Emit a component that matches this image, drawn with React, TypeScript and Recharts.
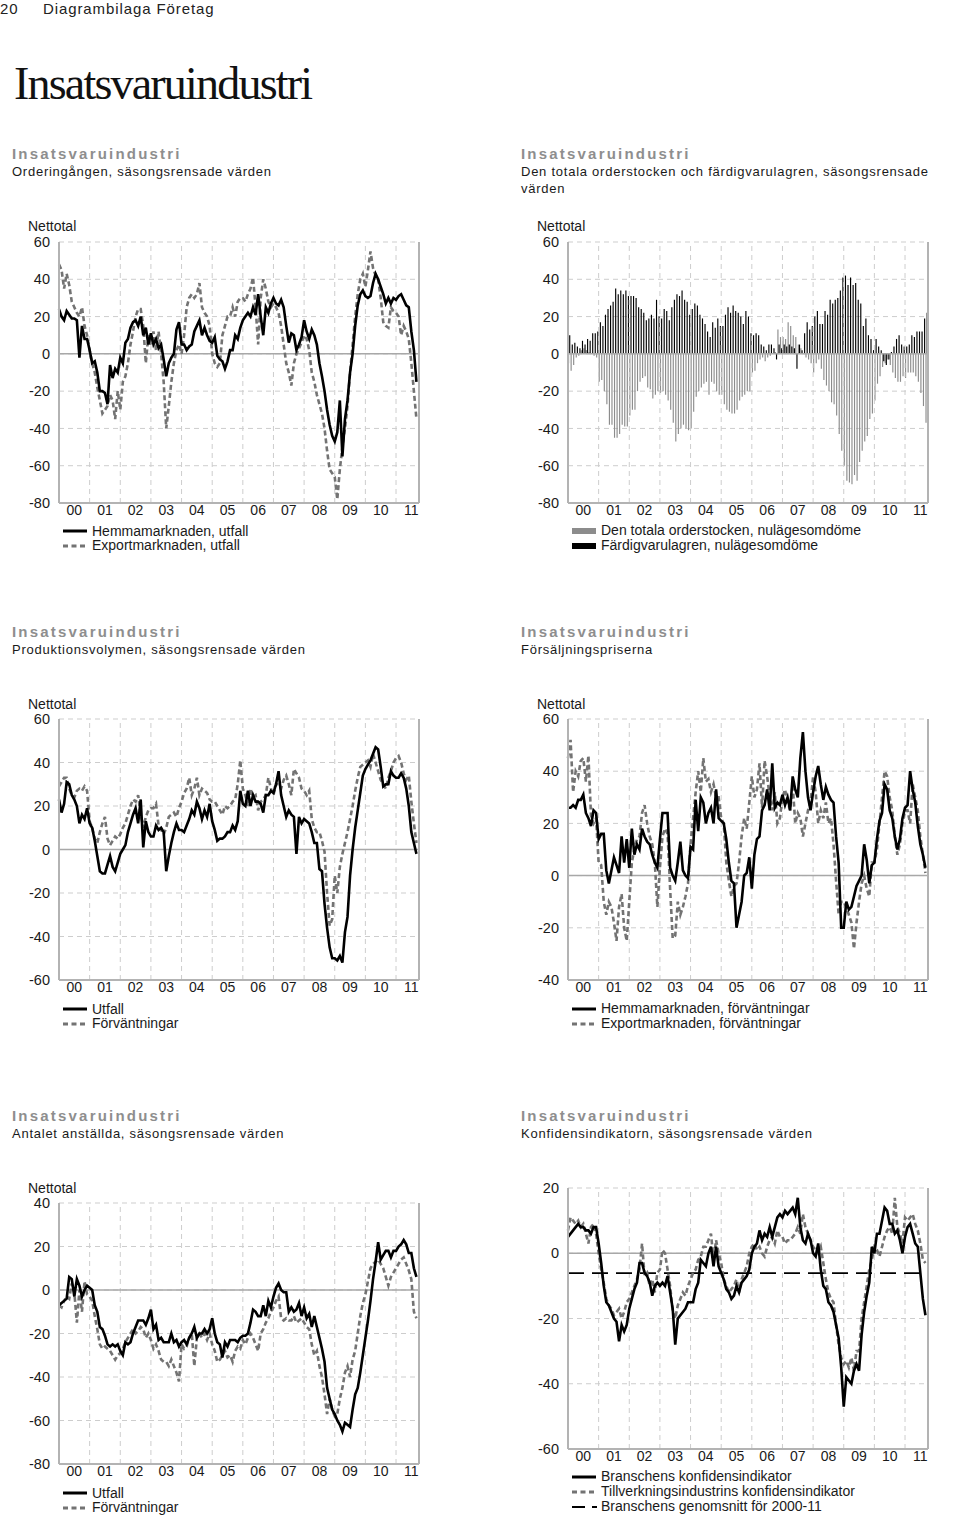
import React from 'react'
import {
  ComposedChart,
  Line,
  Bar,
  XAxis,
  YAxis,
  CartesianGrid,
  ReferenceLine,
} from 'recharts'

const SANS = '"Liberation Sans", Arial, Helvetica, sans-serif'
const SERIF = '"Liberation Serif", "Times New Roman", serif'

// x axis: one label per year, monthly data from Jan 2000
const YEARS = ['00', '01', '02', '03', '04', '05', '06', '07', '08', '09', '10', '11']

// Orderingången
const hemmaUtfall = [
  24, 20, 18, 23, 21, 19, 19, 18, -2, 15, 8, 8,
  2, -5, -4, -10, -20, -20, -21, -27, -6, -13, -8, -10,
  -2, -5, 6, 8, 14, 17, 18, 15, 20, 10, 14, 5,
  11, 5, 8, 3, 5, -3, -12, -5, -2, 0, 13, 17,
  5, 5, 2, 4, 5, 12, 15, 18, 10, 14, 10, 7,
  6, 9, -1, -3, -4, -8, -4, 2, 2, 10, 8, 14,
  18, 20, 22, 20, 25, 21, 32, 20, 10, 25, 22, 27,
  30, 27, 26, 29, 25, 15, 6, 11, 10, 2, 5, 9,
  18, 12, 8, 13, 10, 5, -5, -12, -20, -30, -38, -44,
  -47, -42, -25, -55, -35, -25, -10, 0, 15, 26, 32, 34,
  31, 30, 31, 38, 43, 40, 36, 32, 27, 30, 27, 30,
  29, 31, 32, 29, 26, 25, 12, 2, -15,
]
const exportUtfall = [
  48, 45, 35, 43, 37, 28, 25, 22, 20, 25, 15, 10,
  2, -5, -10, -18, -25, -32, -30, -28, -22, -25, -35, -20,
  -30, -15, -12, -5, 5, 12, 20, 24, 24, 15, -5, 10,
  5, 12, 2, 12, 0, -15, -40, -28, -15, -5, 2, 5,
  0, 10, 25, 30, 32, 30, 32, 38, 25, 22, 20, 15,
  0, -5, -7, -5, 10, 15, 20, 20, 25, 20, 28, 30,
  30, 28, 32, 35, 41, 25, 5, 30, 40, 35, 28, 25,
  27, 25, 22, 15, 5, -5, -10, -17, -5, 0, 3, 6,
  10, 8, 2, -10, -15, -22, -27, -32, -40, -52, -62, -64,
  -66, -78, -62, -50, -40, -28, -10, 5, 20, 32, 40, 43,
  36, 45, 55, 46, 42, 40, 30, 17, 15, 14, 25, 23,
  22, 20, 10, 15, 12, 8, -5, -20, -35,
]

// Orderstock och färdigvarulager
const orderstocken = [
  -5, -9, -6, -2, -1, 2, 3, 2, 1, 0, -1, -2,
  -15, -14, -20, -27, -38, -38, -45, -45, -43, -38, -39, -39,
  -33, -30, -30, -20, -15, -13, -12, -18, -19, -24, -22, -20,
  -21, -20, -22, -25, -30, -37, -47, -43, -40, -38, -40, -41,
  -40, -31, -23, -20, -18, -16, -15, -22, -15, -16, -20, -22,
  -22, -27, -30, -31, -32, -32, -30, -25, -23, -22, -20, -20,
  -10, -9, -5, -3, -2, -4, -2, -1, 0, 1, 13, 9,
  9, 8, 17, 15, 10, 9, 5, 3, 0, -2, -3, -5,
  -10, -5, -3, -8, -14, -17, -20, -26, -27, -33, -43, -52,
  -60, -68, -69, -70, -65, -68, -58, -52, -47, -44, -35, -32,
  -25, -16, -12, -7, -5, -3, -6, -10, -13, -15, -15, -12,
  -13, -10, -10, -10, -12, -15, -21, -28, -37,
]
const fardigvarulager = [
  10, 5, 6, 4, 3, 7, 5, 8, 7, 11, 11, 12,
  17, 15, 21, 24, 26, 28, 35, 32, 34, 32, 34, 31,
  31, 31, 30, 25, 24, 22, 18, 19, 21, 19, 29, 20,
  19, 24, 23, 18, 25, 29, 32, 31, 34, 29, 28, 21,
  24, 27, 26, 21, 19, 16, 12, 9, 17, 14, 19, 15,
  15, 21, 25, 22, 26, 23, 22, 20, 16, 23, 20, 11,
  10, 11, 10, 5, 4, 2, 5, 5, 3, -3, 5, 3,
  5, 4, 5, 4, 3, -8, 5, 2, 11, 17, 13, 15,
  20, 23, 16, 16, 23, 21, 29, 27, 29, 30, 34, 41,
  42, 37, 41, 37, 38, 29, 27, 15, 19, 10, 8, 2,
  8, 4, 2, -4, -6, -3, 1, 4, 8, 10, 5, 4,
  4, 5, 10, 9, 12, 12, 12, 19, 22,
]

// Produktionsvolymen
const prodUtfall = [
  23, 17, 21, 31, 30, 25, 23, 20, 12, 16, 14, 19,
  12, 10, 4, -3, -10, -11, -11, -7, -3, -8, -10, -6,
  -2, 0, 2, 8, 12, 16, 19, 12, 23, 1, 13, 8,
  6, 6, 11, 9, 10, 8, -10, -3, 3, 8, 12, 9,
  9, 8, 11, 14, 18, 16, 22, 19, 14, 18, 15, 21,
  13, 9, 4, 5, 5, 6, 8, 8, 11, 9, 13, 27,
  21, 20, 27, 20, 25, 22, 22, 21, 17, 25, 25, 27,
  26, 30, 36, 25, 20, 15, 18, 16, 15, -2, 15, 12,
  14, 13, 12, 8, 3, 3, -9, -10, -25, -36, -45, -50,
  -50, -51, -49, -52, -38, -31, -12, 0, 10, 18, 26, 34,
  37, 39, 41, 44, 47, 46, 38, 29, 30, 30, 36, 34,
  33, 33, 35, 33, 28, 20, 8, 3, -2,
]
const prodForv = [
  29, 31, 33, 33, 28, 25, 24, 27, 28, 27, 29, 27,
  13, 10, 5, 3, 8, 12, 15, 5, 2, 4, 6, 5,
  7, 10, 12, 16, 20, 23, 22, 25, 16, 10, 15, 18,
  19, 19, 21, 11, 9, 7, 10, 15, 16, 17, 15, 19,
  22, 26, 28, 33, 25, 28, 33, 25, 28, 27, 26, 23,
  22, 22, 20, 18, 16, 20, 19, 20, 22, 23, 30, 41,
  28, 25, 20, 28, 24, 25, 18, 22, 23, 25, 33, 28,
  25, 30, 30, 28, 32, 34, 30, 25, 37, 35, 33, 28,
  27, 25, 27, 14, 10, 8, 8, 4, -1, -20, -35, -32,
  -12, -20, -8, -2, 3, 8, 14, 20, 27, 33, 38, 39,
  40, 41, 38, 44, 40, 36, 32, 30, 28, 33, 36, 40,
  42, 43, 40, 35, 32, 34, 22, 12, 3,
]

// Försäljningspriserna
const prisHemma = [
  26, 26, 27, 26, 29, 29, 31, 24, 22, 19, 25, 24,
  14, 16, 16, 2, -3, 2, 7, 4, 1, 15, 5, 14,
  3, 18, 8, 12, 10, 18, 15, 13, 12, 8, 5, 3,
  14, 24, 24, 24, 3, 0, -2, 5, 13, 2, 0, -1,
  11, 10, 29, 17, 30, 28, 20, 24, 26, 20, 33, 22,
  21, 20, 14, 5, -2, -3, -20, -15, -10, 0, 1, 7,
  -5, 8, 14, 15, 25, 27, 33, 25, 43, 26, 28, 27,
  31, 27, 30, 25, 38, 33, 30, 45, 55, 40, 30, 25,
  32, 38, 42, 35, 29, 34, 31, 29, 28, 15, 5, -20,
  -20, -10, -13, -12, -8, -4, -2, 0, 12, 6, -3, 4,
  5, 14, 21, 24, 35, 33, 25, 22, 15, 10, 14, 22,
  26, 27, 40, 33, 28, 19, 12, 8, 3,
]
const prisExport = [
  45, 52, 32, 40, 38, 44, 45, 36, 46, 23, 20, 22,
  5, 4, -10, -15, -10, -12, -18, -25, -12, -7, -20, -25,
  -10, 5, 10, 14, 15, 24, 27, 20, 15, 12, 5, -12,
  3, 15, 18, 16, -5, -24, -23, -10, -15, -12, -8, -3,
  12, 22, 32, 40, 32, 45, 36, 37, 32, 35, 30, 30,
  22, 20, 5, -2, -8, -4, -3, 5, 15, 22, 18, 28,
  38, 30, 33, 43, 26, 44, 38, 30, 25, 32, 20, 22,
  30, 33, 28, 25, 35, 20, 24, 22, 15, 20, 25, 28,
  38, 32, 20, 25, 22, 28, 20, 22, 12, -2, -15, -10,
  -10, -12, -15, -18, -28, -18, -10, -3, 0, -5, -8, 5,
  5, 10, 20, 30, 40, 38, 30, 25, 15, 8, 12, 20,
  25, 25, 20, 35, 30, 25, 15, 8, 1,
]

// Antalet anställda
const anstUtfall = [
  -7, -6, -5, -4, 6, 5, -3, 5, 2, -3, 0, 2,
  1, 0, -7, -10, -17, -18, -21, -25, -26, -25, -26, -25,
  -28, -30, -24, -25, -24, -20, -17, -14, -14, -14, -16, -13,
  -9, -18, -16, -23, -22, -24, -24, -24, -20, -24, -23, -26,
  -24, -23, -25, -22, -20, -17, -22, -20, -20, -18, -20, -18,
  -13, -20, -24, -25, -31, -24, -26, -23, -23, -23, -24, -22,
  -21, -21, -20, -15, -9, -10, -12, -12, -7, -12, -5, -8,
  -3, 1, 3, 0, -1, -1, -10, -8, -10, -9, -6, -12,
  -8, -13, -11, -17, -12, -17, -22, -27, -33, -45, -50, -55,
  -57, -60, -62, -65, -61, -62, -63, -55, -48, -45, -38, -30,
  -22, -14, -5, 5, 13, 22, 14, 16, 18, 18, 15, 18,
  18, 20, 21, 23, 21, 17, 17, 10, 6,
]
const anstForv = [
  -7, -8, -5, -3, -4, 3, -1, -15, 0, -10, 4, -2,
  -3, -5, -12, -18, -25, -27, -26, -27, -28, -30, -32, -30,
  -29, -27, -24, -22, -20, -18, -20, -19, -17, -18, -22, -20,
  -23, -27, -25, -28, -32, -33, -33, -35, -32, -35, -38, -42,
  -25, -27, -26, -22, -20, -35, -22, -20, -22, -20, -23, -20,
  -25, -28, -33, -32, -30, -28, -31, -30, -33, -28, -26, -27,
  -23, -25, -22, -20, -22, -25, -28, -20, -18, -15, -13, -10,
  -8, -5, -3, -13, -14, -13, -14, -14, -12, -15, -14, -13,
  -15, -17, -18, -25, -30, -28, -35, -40, -48, -57, -50, -55,
  -58, -57, -50, -45, -38, -35, -40, -32, -28, -20, -12, -6,
  -2, 4, 10, 12, 13, 14, 12, 10, 6, 2, 6, 8,
  10, 12, 14, 15, 12, 9, 5, -10, -13,
]

// Konfidensindikatorn
const konfBransch = [
  5, 6, 7, 8, 9, 8, 8, 7, 7, 6, 8, 8,
  3, -3, -10, -15, -16, -18, -20, -21, -27, -22, -24, -22,
  -17, -14, -11, -9, -3, -3, -6, -7, -9, -13, -10, -9,
  -10, -9, -10, -7, -12, -17, -28, -20, -19, -18, -17, -15,
  -15, -15, -11, -9, -2, -3, -4, 0, 2, -4, 2, -4,
  -6, -8, -11, -12, -14, -13, -10, -12, -9, -8, -7, -5,
  0, 2, 3, 7, 4, 6, 5, 8, 5, 8, 11, 12,
  11, 13, 12, 13, 14, 12, 17, 8, 4, 3, 6, 4,
  0, -1, 3, -5, -10, -11, -15, -16, -18, -22, -26, -35,
  -47, -38, -39, -40, -36, -34, -36, -25, -18, -13, -9, 2,
  0, 6, 6, 10, 14, 13, 9, 9, 6, 7, 4, 0,
  5, 8, 9, 6, 3, 2, -6, -14, -19,
]
const konfTillv = [
  7, 11, 10, 9, 10, 8, 9, 6, 3, 8, 9, 6,
  0, -5, -9, -14, -16, -17, -19, -18, -17, -20, -18, -15,
  -14, -12, -10, -8, -5, 3, -7, -6, -10, -8, -12, -6,
  -5, 1, 0, -5, -10, -18, -20, -16, -14, -12, -13, -10,
  -8, -6, -5, -2, -1, 2, 2, 4, 6, -2, 4, 0,
  -3, -8, -10, -12, -11, -10, -8, -12, -8, -6, -4, 0,
  2, 3, 1, 2, 0, -1, 2, 4, 5, 3, 7, 5,
  5, 3, 4, 4, 5, 6, 8, 6, 12, 8, 6, 4,
  2, 1, 0, 2, -3, -8, -12, -14, -15, -22, -28, -32,
  -34, -33, -35, -32, -36, -30, -30, -20, -15, -10, -5, -2,
  2, 1, -1, 2, 5, 7, 8, 6, 17, 8, 6, 3,
  11, 10, 11, 12, 9, 7, 3, -2, -3,
]
const branschSnitt = -6.1

const PLOT_W = 360
const PLOT_H = 261
const RIGHT_W = 40
const X_H = 28
const GRID = '#cdcdcd'
const AXIS = '#b3b3b3'
const GRAY = '#737373'

function toRows(a: number[], b: number[]) {
  return a.map((v, i) => ({ m: i, a: v, b: b[i] }))
}

function Text({ x, base, size = 14, serif = false, color = '#1a1a1a', bold = false, spacing = 0, children }: any) {
  const off = serif ? 0.9375 : 0.9465
  return (
    <div
      style={{
        position: 'absolute',
        left: x,
        top: base - off * size,
        fontFamily: serif ? SERIF : SANS,
        fontSize: size,
        lineHeight: `${size * 1.2}px`,
        color,
        fontWeight: bold ? 700 : 400,
        letterSpacing: spacing,
        whiteSpace: 'nowrap',
      }}
    >
      {children}
    </div>
  )
}

function Swatch({ x, y, kind }: { x: number; y: number; kind: string }) {
  return (
    <svg style={{ position: 'absolute', left: x, top: y - 5 }} width={26} height={10}>
      {kind === 'solid' && <line x1={0} x2={24} y1={5} y2={5} stroke="#000" strokeWidth={3} />}
      {kind === 'dash' && (
        <line x1={0} x2={24} y1={5} y2={5} stroke={GRAY} strokeWidth={3} strokeDasharray="5 3.5" />
      )}
      {kind === 'barGray' && <rect x={0} y={2} width={24} height={6} fill="#8c8c8c" />}
      {kind === 'barBlack' && <rect x={0} y={2} width={24} height={6} fill="#000" />}
      {kind === 'longdash' && (
        <line x1={0} x2={25} y1={5} y2={5} stroke="#000" strokeWidth={1.8} strokeDasharray="13 7 5 40" />
      )}
    </svg>
  )
}

function Legend({ x, bases, items }: { x: number; bases: number[]; items: { kind: string; label: string }[] }) {
  return (
    <>
      {items.map((it, i) => (
        <React.Fragment key={it.label}>
          <Swatch x={x} y={bases[i] - 5} kind={it.kind} />
          <Text x={x + 29} base={bases[i]} size={14}>
            {it.label}
          </Text>
        </React.Fragment>
      ))}
    </>
  )
}

function Panel({ left, axisW, plotTop, domain, ticks, data, shift = 0, children }: any) {
  const xDomain = [shift, 141 + shift]
  const yearMid = YEARS.map((_, i) => i * 12 + 6 + shift)
  const bounds = YEARS.slice(1).map((_, i) => (i + 1) * 12 + shift)
  const monthTicks = data.map((d: any) => d.m)
  const tickStyle = { fontSize: 14.5, fill: '#1a1a1a', fontFamily: SANS }
  return (
    <div style={{ position: 'absolute', left, top: plotTop - 10 }}>
      <ComposedChart
        width={axisW + PLOT_W + RIGHT_W}
        height={10 + PLOT_H + X_H}
        data={data}
        margin={{ top: 10, right: 0, bottom: 0, left: 0 }}
        barGap={0}
      >
        <CartesianGrid yAxisId="l" vertical={false} stroke={GRID} strokeDasharray="5 4" />
        {bounds.map((b) => (
          <ReferenceLine key={b} yAxisId="l" x={b} stroke={GRID} strokeDasharray="5 4" />
        ))}
        <ReferenceLine yAxisId="l" y={0} stroke="#a8a8a8" strokeWidth={1.5} />
        <XAxis
          xAxisId="minor"
          type="number"
          dataKey="m"
          domain={xDomain}
          ticks={monthTicks}
          interval={0}
          tick={false}
          tickSize={3}
          mirror
          height={0}
          axisLine={false}
          tickLine={{ stroke: AXIS }}
        />
        <XAxis
          type="number"
          dataKey="m"
          domain={xDomain}
          ticks={yearMid}
          interval={0}
          tickFormatter={(v: number) => YEARS[Math.round((v - 6 - shift) / 12)]}
          tick={{ ...tickStyle, fontSize: 14 }}
          tickLine={false}
          tickSize={0}
          tickMargin={2}
          height={X_H}
          axisLine={{ stroke: AXIS, strokeWidth: 2 }}
        />
        <YAxis
          yAxisId="l"
          width={axisW}
          domain={domain}
          ticks={ticks}
          interval={0}
          tick={tickStyle}
          tickLine={false}
          tickSize={0}
          tickMargin={9}
          axisLine={{ stroke: AXIS, strokeWidth: 2 }}
        />
        <YAxis
          yAxisId="r"
          orientation="right"
          width={RIGHT_W}
          domain={domain}
          ticks={ticks}
          interval={0}
          tick={tickStyle}
          tickLine={false}
          tickSize={0}
          tickMargin={8}
          axisLine={{ stroke: AXIS, strokeWidth: 2 }}
        />
        {children}
      </ComposedChart>
    </div>
  )
}

const solid = (key: string) => (
  <Line
    key={key}
    yAxisId="l"
    type="linear"
    dataKey={key}
    stroke="#000"
    strokeWidth={2.6}
    dot={false}
    isAnimationActive={false}
  />
)
const dashed = (key: string) => (
  <Line
    key={key}
    yAxisId="l"
    type="linear"
    dataKey={key}
    stroke={GRAY}
    strokeWidth={2.6}
    strokeDasharray="5 3"
    dot={false}
    isAnimationActive={false}
  />
)

export default function App() {
  const L = { left: 0, axisW: 59 }
  const R = { left: 508, axisW: 60 }
  const titleGray = '#8e8e8e'

  return (
    <div
      style={{
        position: 'absolute',
        left: 0,
        top: 0,
        width: 960,
        height: 1519,
        background: '#fff',
        overflow: 'hidden',
      }}
    >
      <Text x={0} base={14.5} size={15} spacing={0.9} color="#222">20</Text>
      <Text x={43} base={14.5} size={15} spacing={0.9} color="#222">Diagrambilaga Företag</Text>
      <Text x={14} base={99} size={46} serif spacing={-1.8} color="#111">Insatsvaruindustri</Text>

      {/* Row 1 */}
      <Text x={12} base={159.5} size={15} bold spacing={2.2} color={titleGray}>Insatsvaruindustri</Text>
      <Text x={12} base={176} size={13} spacing={0.75}>Orderingången, säsongsrensade värden</Text>
      <Text x={521} base={159.5} size={15} bold spacing={2.2} color={titleGray}>Insatsvaruindustri</Text>
      <Text x={521} base={176} size={13} spacing={0.75}>
        Den totala orderstocken och färdigvarulagren, säsongsrensade
      </Text>
      <Text x={521} base={193} size={13} spacing={0.75}>värden</Text>

      <Text x={28} base={231.7} size={14}>Nettotal</Text>
      <Panel {...L} plotTop={242} domain={[-80, 60]} ticks={[-80, -60, -40, -20, 0, 20, 40, 60]} data={toRows(hemmaUtfall, exportUtfall)}>
        {dashed('b')}
        {solid('a')}
      </Panel>
      <Legend
        x={63}
        bases={[536, 550.7]}
        items={[
          { kind: 'solid', label: 'Hemmamarknaden, utfall' },
          { kind: 'dash', label: 'Exportmarknaden, utfall' },
        ]}
      />

      <Text x={537} base={231.7} size={14}>Nettotal</Text>
      <Panel {...R} plotTop={242} domain={[-80, 60]} ticks={[-80, -60, -40, -20, 0, 20, 40, 60]} data={toRows(orderstocken, fardigvarulager)} shift={-0.5}>
        <Bar yAxisId="l" dataKey="a" fill="#8c8c8c" barSize={1.3} isAnimationActive={false} />
        <Bar yAxisId="l" dataKey="b" fill="#000" barSize={1.3} isAnimationActive={false} />
      </Panel>
      <Legend
        x={572}
        bases={[535.5, 550.5]}
        items={[
          { kind: 'barGray', label: 'Den totala orderstocken, nulägesomdöme' },
          { kind: 'barBlack', label: 'Färdigvarulagren, nulägesomdöme' },
        ]}
      />

      {/* Row 2 */}
      <Text x={12} base={637.5} size={15} bold spacing={2.2} color={titleGray}>Insatsvaruindustri</Text>
      <Text x={12} base={654} size={13} spacing={0.75}>Produktionsvolymen, säsongsrensade värden</Text>
      <Text x={521} base={637.5} size={15} bold spacing={2.2} color={titleGray}>Insatsvaruindustri</Text>
      <Text x={521} base={654} size={13} spacing={0.75}>Försäljningspriserna</Text>

      <Text x={28} base={709} size={14}>Nettotal</Text>
      <Panel {...L} plotTop={719.3} domain={[-60, 60]} ticks={[-60, -40, -20, 0, 20, 40, 60]} data={toRows(prodUtfall, prodForv)}>
        {dashed('b')}
        {solid('a')}
      </Panel>
      <Legend
        x={63}
        bases={[1014, 1028.5]}
        items={[
          { kind: 'solid', label: 'Utfall' },
          { kind: 'dash', label: 'Förväntningar' },
        ]}
      />

      <Text x={537} base={709} size={14}>Nettotal</Text>
      <Panel {...R} plotTop={719.3} domain={[-40, 60]} ticks={[-40, -20, 0, 20, 40, 60]} data={toRows(prisHemma, prisExport)}>
        {dashed('b')}
        {solid('a')}
      </Panel>
      <Legend
        x={572}
        bases={[1013.5, 1028.5]}
        items={[
          { kind: 'solid', label: 'Hemmamarknaden, förväntningar' },
          { kind: 'dash', label: 'Exportmarknaden, förväntningar' },
        ]}
      />

      {/* Row 3 */}
      <Text x={12} base={1121.5} size={15} bold spacing={2.2} color={titleGray}>Insatsvaruindustri</Text>
      <Text x={12} base={1138} size={13} spacing={0.75}>Antalet anställda, säsongsrensade värden</Text>
      <Text x={521} base={1121.5} size={15} bold spacing={2.2} color={titleGray}>Insatsvaruindustri</Text>
      <Text x={521} base={1138} size={13} spacing={0.75}>Konfidensindikatorn, säsongsrensade värden</Text>

      <Text x={28} base={1193.3} size={14}>Nettotal</Text>
      <Panel {...L} plotTop={1203.3} domain={[-80, 40]} ticks={[-80, -60, -40, -20, 0, 20, 40]} data={toRows(anstUtfall, anstForv)}>
        {dashed('b')}
        {solid('a')}
      </Panel>
      <Legend
        x={63}
        bases={[1498.3, 1512.7]}
        items={[
          { kind: 'solid', label: 'Utfall' },
          { kind: 'dash', label: 'Förväntningar' },
        ]}
      />

      <Panel {...R} plotTop={1188} domain={[-60, 20]} ticks={[-60, -40, -20, 0, 20]} data={toRows(konfBransch, konfTillv)}>
        <ReferenceLine yAxisId="l" y={branschSnitt} stroke="#000" strokeWidth={1.8} strokeDasharray="16 8" />
        {dashed('b')}
        {solid('a')}
      </Panel>
      <Legend
        x={572}
        bases={[1481.7, 1496.7, 1511.7]}
        items={[
          { kind: 'solid', label: 'Branschens konfidensindikator' },
          { kind: 'dash', label: 'Tillverkningsindustrins konfidensindikator' },
          { kind: 'longdash', label: 'Branschens genomsnitt för 2000-11' },
        ]}
      />
    </div>
  )
}
